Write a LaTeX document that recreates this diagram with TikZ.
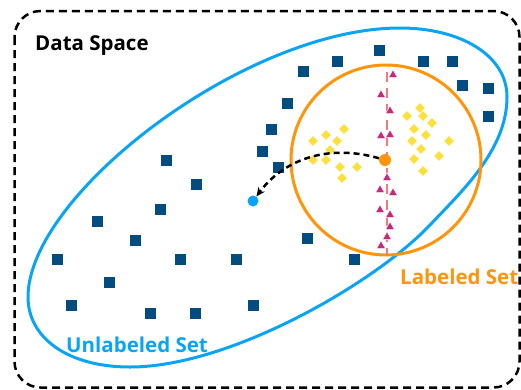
\documentclass[tikz,border=0pt]{standalone}
\usepackage{fontspec}
\setmainfont{Open Sans}
\usetikzlibrary{shapes.geometric,arrows.meta}
\definecolor{navy}{HTML}{034C80}
\definecolor{skyb}{HTML}{0AA4F4}
\definecolor{orng}{HTML}{FF950A}
\definecolor{yell}{HTML}{FBE03E}
\definecolor{mag}{HTML}{C52B7D}
\definecolor{salmon}{HTML}{F47A78}
\tikzset{
  sq/.style={rectangle,fill=navy,inner sep=0,minimum size=11pt},
  dia/.style={diamond,fill=yell,inner sep=0,minimum size=10pt},
  tri/.style={regular polygon,regular polygon sides=3,fill=mag,draw=white,line width=0.5pt,inner sep=0,minimum size=10.5pt},
  dot/.style={circle,inner sep=0},
  lbl/.style={font=\bfseries\fontsize{20.5}{24}\selectfont,inner sep=0,anchor=base west},
}
\begin{document}
\begin{tikzpicture}[x=1pt,y=-1pt]
\useasboundingbox (0,0) rectangle (521,389);
% data space border
\draw[line width=2.5pt,dash pattern=on 8pt off 5pt,rounded corners=26pt] (14.5,11) rectangle (519.5,387.5);
\node[lbl] (ds) at (35,50) {Data Space};
% unlabeled set boundary
\draw[skyb,line width=3pt] (130,367) .. controls (68,367) and (28,338) .. (28,297)
  .. controls (28,195) and (245,28) .. (400,28)
  .. controls (460,28) and (507,55) .. (507,97)
  .. controls (507,150) and (461,192) .. (430,225)
  .. controls (375,283) and (230,367) .. cycle;
% labeled set circle
\draw[orng,line width=3pt] (386,160) circle [radius=95];
% squares
\foreach \x/\y [count=\i] in {166/160,196/184,262/151,160/209,97/221,135/240,57/259,180/259,236/259,109/282,71/305,150/313,195/313,253/305,379/50,337/61,423/61,452/61,303/71,462/85,488/88,287/103,488/116,271/129,278/167,307/238,354/259}
  \node[sq] (s\i) at (\x,\y) {};
% diamonds
\foreach \x/\y [count=\i] in {344/129,326/135,313/141,337/141,330/150,313/160,326/160,340/167,357/167,342/178,420/108,407/116,423/116,432/123,414/129,426/135,412/141,449/141,421/149,439/156,414/159,423/171}
  \node[dia] (d\i) at (\x,\y) {};
% dashed decision line
\coordinate (lt) at (387,72);
\coordinate (lb) at (387,255);
\draw[salmon,line width=2.5pt,dash pattern=on 10pt off 6pt] (lt) -- (lb);
% triangles
\foreach \x/\y [count=\i] in {393/75,381/95,390/111,381/136,390/135,387/178,380/190,393/193,380/210,390/215,390/227,387/237,381/246}
  \node[tri] (t\i) at (\x,\y) {};
% centers
\node[dot,fill=orng,minimum size=12pt] (lc) at (385,160) {};
\node[dot,fill=skyb,minimum size=11pt] (uc) at (253,201) {};
\draw[line width=2.5pt,dash pattern=on 6pt off 4pt,-{Stealth[length=9pt,width=8pt]}] (lc) .. controls (330,144) and (285,158) .. (uc);
% labels
\node[lbl,text=skyb] (ul) at (66,352) {Unlabeled Set};
\node[lbl,text=orng] (ll) at (400,284) {Labeled Set};
\end{tikzpicture}
\end{document}
